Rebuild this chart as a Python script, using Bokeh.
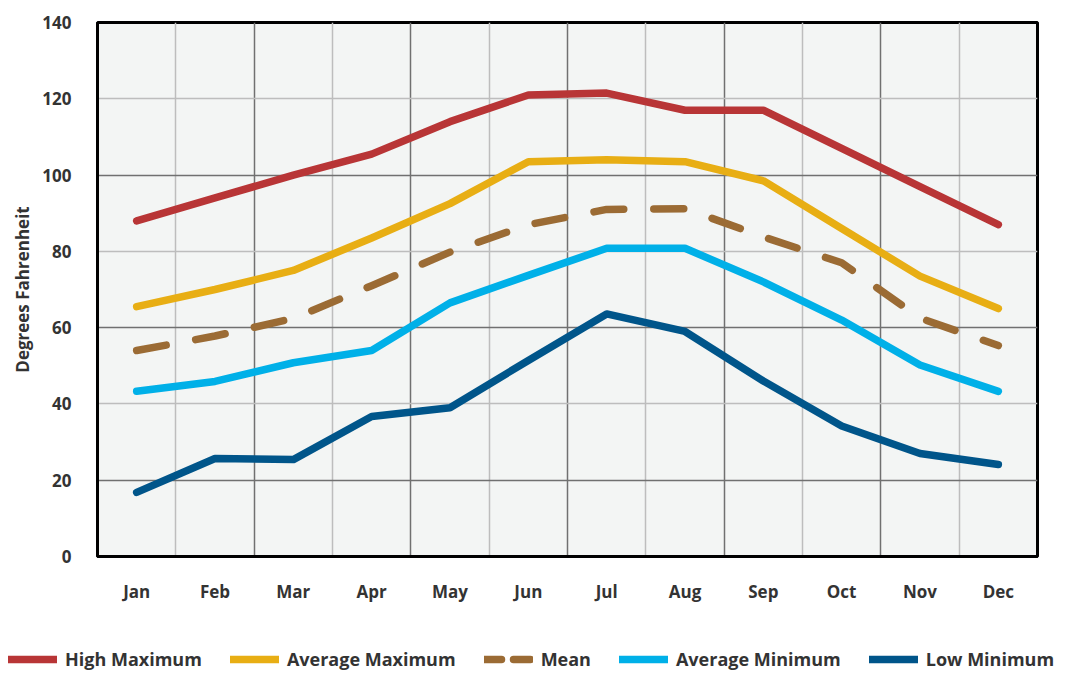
from bokeh.plotting import figure
from bokeh.layouts import column
from bokeh.models import FixedTicker, Grid, Legend, LegendItem, Range1d, ColumnDataSource
from bokeh.embed import file_html
from bokeh.resources import INLINE

months = ["Jan", "Feb", "Mar", "Apr", "May", "Jun", "Jul", "Aug", "Sep", "Oct", "Nov", "Dec"]
high_max = [88, 94, 100, 105.5, 114, 121, 121.5, 117, 117, 107, 97, 87]
avg_max = [65.5, 70, 75, 83.5, 92.5, 103.5, 104, 103.5, 98.5, 86, 73.5, 65]
mean = [54, 57.8, 62.4, 71, 79.8, 87, 91, 91.2, 83.8, 77, 62.5, 55.3]
avg_min = [43.3, 45.9, 50.8, 54, 66.5, 73.7, 80.8, 80.8, 72, 62, 50.2, 43.3]
low_min = [16.8, 25.7, 25.4, 36.7, 39, 51.4, 63.6, 59, 46, 34.2, 27, 24.1]
y_ticks = [0, 20, 40, 60, 80, 100, 120, 140]
series_names = ["High Maximum", "Average Maximum", "Mean", "Average Minimum", "Low Minimum"]
series_colors = ["#B83536", "#E8AE14", "#9B6B34", "#00B0E8", "#00558A"]

x = [i + 0.5 for i in range(len(months))]
src = ColumnDataSource(dict(x=x, hmax=high_max, amax=avg_max, mean=mean, amin=avg_min, lmin=low_min))

FONT = "Open Sans"
TXT = "#333333"

p = figure(width=1069, height=640, output_backend="svg", toolbar_location=None,
           x_range=Range1d(0, 12), y_range=Range1d(0, 140),
           min_border_left=97, min_border_right=32, min_border_top=22, min_border_bottom=84)
p.frame_align = False
p.border_fill_color = "white"
p.background_fill_color = "#F3F5F4"
p.outline_line_color = "black"
p.outline_line_width = 3

p.xgrid.visible = False
p.ygrid.visible = False
p.add_layout(Grid(dimension=0, ticker=FixedTicker(ticks=[1, 3, 5, 7, 9, 11]),
                  grid_line_color="#BDBDBD", grid_line_width=1.5))
p.add_layout(Grid(dimension=0, ticker=FixedTicker(ticks=[2, 4, 6, 8, 10]),
                  grid_line_color="#707070", grid_line_width=1.5))
p.add_layout(Grid(dimension=1, ticker=FixedTicker(ticks=[40, 80, 120]),
                  grid_line_color="#BDBDBD", grid_line_width=1.5))
p.add_layout(Grid(dimension=1, ticker=FixedTicker(ticks=[20, 60, 100]),
                  grid_line_color="#707070", grid_line_width=1.5))

p.xaxis.ticker = FixedTicker(ticks=x)
p.xaxis.major_label_overrides = {xx: m for xx, m in zip(x, months)}
p.yaxis.ticker = FixedTicker(ticks=y_ticks)
for ax in (p.xaxis[0], p.yaxis[0]):
    ax.axis_line_color = "black"
    ax.axis_line_width = 3
    ax.major_tick_line_color = None
    ax.minor_tick_line_color = None
    ax.major_label_text_font = FONT
    ax.major_label_text_font_style = "bold"
    ax.major_label_text_font_size = "17px"
    ax.major_label_text_color = TXT
p.xaxis.major_label_standoff = 17
p.yaxis.major_label_standoff = 20
p.yaxis.axis_label = "Degrees Fahrenheit"
p.yaxis.axis_label_text_font = FONT
p.yaxis.axis_label_text_font_style = "bold"
p.yaxis.axis_label_text_font_size = "17px"
p.yaxis.axis_label_text_color = TXT
p.yaxis.axis_label_standoff = 5

W = 7.5
cols = ["hmax", "amax", "mean", "amin", "lmin"]
for c, color in zip(cols, series_colors):
    kw = dict(line_dash="30 30") if c == "mean" else {}
    p.line("x", c, source=src, line_color=color, line_width=W, line_cap="round", line_join="round", **kw)

# legend strip below the chart
lf = figure(width=1069, height=33, output_backend="svg", toolbar_location=None,
            x_range=Range1d(0, 1), y_range=Range1d(0, 1),
            min_border_left=0, min_border_right=0, min_border_top=0, min_border_bottom=0)
lf.frame_align = False
lf.axis.visible = False
lf.grid.visible = False
lf.outline_line_color = None
lf.background_fill_color = "white"
lf.border_fill_color = "white"
items = []
for name, color in zip(series_names, series_colors):
    kw = dict(line_dash="17 12") if name == "Mean" else {}
    # off-screen placeholder line; only its style is used by the legend
    r = lf.line([5, 6], [5, 6], line_color=color, line_width=W, line_cap="round", **kw)
    items.append(LegendItem(label=name, renderers=[r]))
legend = Legend(items=items, orientation="horizontal", location=(8, 2), glyph_width=49, glyph_height=20,
                label_standoff=8, spacing=28, padding=0, margin=0,
                label_text_font=FONT, label_text_font_style="bold", label_text_font_size="18px",
                label_text_color=TXT, background_fill_alpha=0, border_line_color=None)
lf.add_layout(legend, "center")

layout = column(p, lf, spacing=0)
open("out.html", "w").write(file_html(layout, INLINE))
